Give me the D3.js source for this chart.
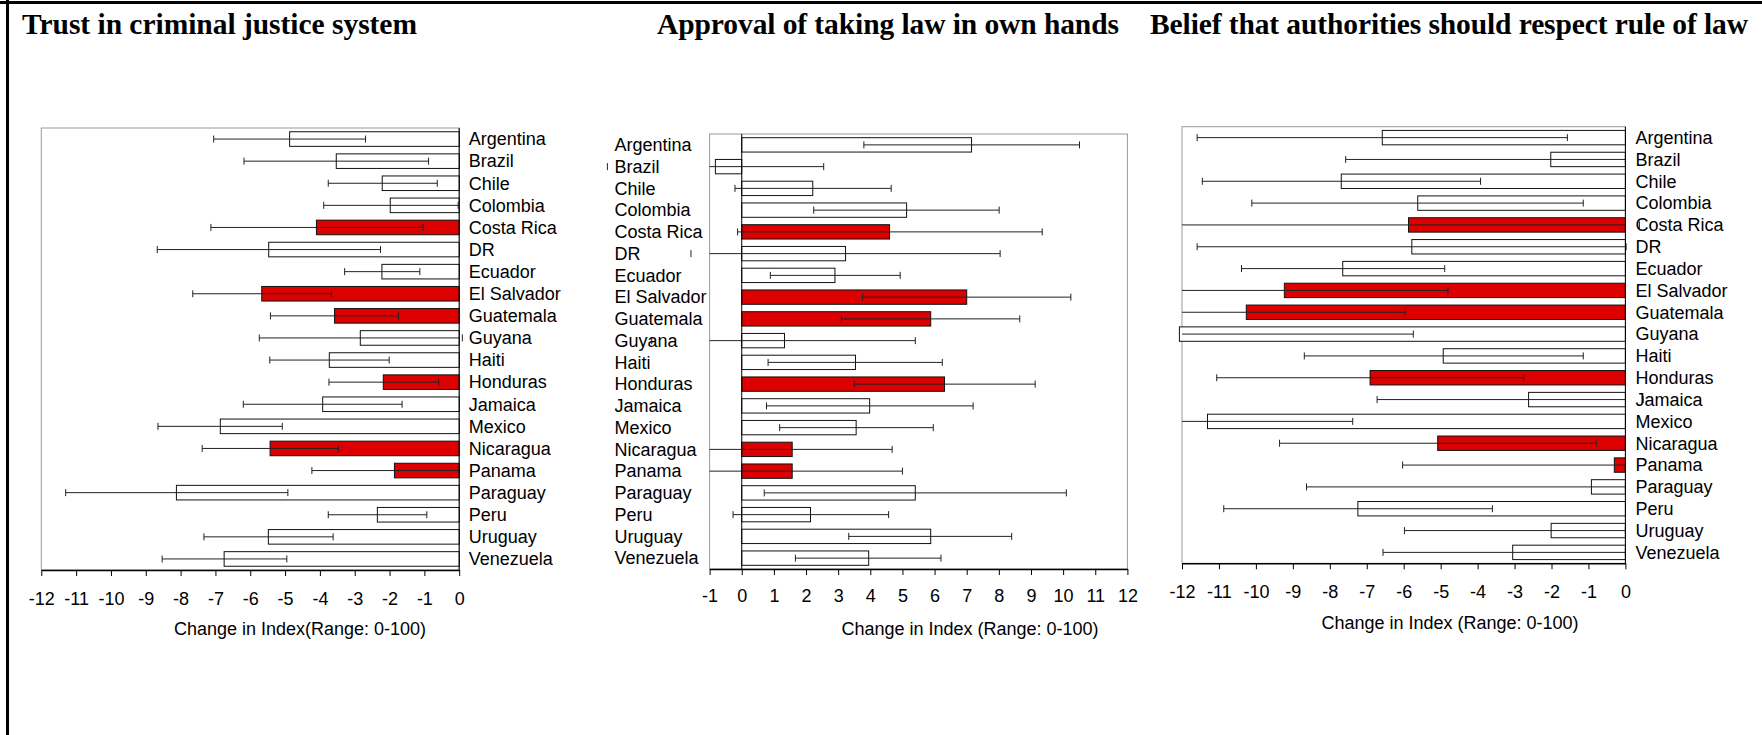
<!DOCTYPE html>
<html>
<head>
<meta charset="utf-8">
<script src="https://cdn.jsdelivr.net/npm/d3@7"></script>
<style>
  html, body { margin: 0; padding: 0; background: #fff; }
  svg { display: block; }
</style>
</head>
<body>
<svg id="chart" width="1762" height="735"></svg>
<script>
// ---------------- DATA ----------------
const countries = ["Argentina","Brazil","Chile","Colombia","Costa Rica","DR","Ecuador","El Salvador","Guatemala","Guyana","Haiti","Honduras","Jamaica","Mexico","Nicaragua","Panama","Paraguay","Peru","Uruguay","Venezuela"];
const highlighted = ["Costa Rica","El Salvador","Guatemala","Honduras","Nicaragua","Panama"];

const panelTitles = ["Trust in criminal justice system","Approval of taking law in own hands","Belief that authorities should respect rule of law"];
const axisTitles = ["Change in Index(Range: 0-100)","Change in Index (Range: 0-100)","Change in Index (Range: 0-100)"];

const trustTicks = [-12,-11,-10,-9,-8,-7,-6,-5,-4,-3,-2,-1,0];
const approvalTicks = [-1,0,1,2,3,4,5,6,7,8,9,10,11,12];
const ruleTicks = [-12,-11,-10,-9,-8,-7,-6,-5,-4,-3,-2,-1,0];

const trustValues = [-4.87,-3.53,-2.21,-1.98,-4.10,-5.47,-2.22,-5.67,-3.58,-2.84,-3.73,-2.18,-3.92,-6.86,-5.43,-1.86,-8.12,-2.35,-5.48,-6.75];
const trustLow    = [-7.05,-6.18,-3.76,-3.89,-7.13,-8.67,-3.29,-7.65,-5.42,-5.74,-5.44,-3.74,-6.20,-8.65,-7.38,-4.23,-11.30,-3.76,-7.33,-8.53];
const trustHigh   = [-2.69,-0.88,-0.63,-0.03,-1.04,-2.26,-1.13,-3.67,-1.74,0.09,-2.01,-0.59,-1.64,-5.08,-3.47,0.00,-4.92,-0.93,-3.62,-4.95];

const approvalValues = [7.15,-0.82,2.21,5.13,4.60,3.23,2.90,7.00,5.88,1.33,3.54,6.31,3.98,3.56,1.57,1.57,5.40,2.14,5.88,3.95];
const approvalLow    = [3.80,-4.18,-0.21,2.24,-0.13,-1.58,0.89,3.76,3.10,-2.80,0.82,3.50,0.77,1.18,-5.50,-5.20,0.70,-0.27,3.33,1.67];
const approvalHigh   = [10.51,2.55,4.65,8.01,9.35,8.04,4.93,10.24,8.65,5.40,6.24,9.13,7.20,5.96,4.68,5.00,10.10,4.57,8.40,6.20];

const ruleValues = [-6.58,-2.02,-7.69,-5.62,-5.87,-5.78,-7.65,-9.23,-10.26,-12.07,-4.93,-6.91,-2.62,-11.31,-5.08,-0.30,-0.92,-7.24,-2.01,-3.05];
const ruleLow    = [-11.59,-7.57,-11.45,-10.11,-12.60,-11.59,-10.39,-13.00,-13.20,-13.50,-8.69,-11.06,-6.72,-12.80,-9.36,-6.03,-8.63,-10.87,-5.98,-6.56];
const ruleHigh   = [-1.57,0.00,-3.92,-1.14,0.38,0.02,-4.89,-4.80,-5.96,-5.74,-1.14,-2.75,0.48,-7.38,-0.79,0.00,0.00,-3.60,0.00,0.00];

// ---------------- LAYOUT ----------------
const panels = [
  { title: panelTitles[0], axisTitle: axisTitles[0], values: trustValues, low: trustLow, high: trustHigh, ticks: trustTicks,
    domain: [-12, 0], capDomain: [-12, 3], x0: 41.3, x1: 459.2, y0: 128, y1: 570,
    labelX: 468.8, tickPad: 16, axisTitleX: 300, axisTitleY: 635, titleX: 22, titleW: 395 },
  { title: panelTitles[1], axisTitle: axisTitles[1], values: approvalValues, low: approvalLow, high: approvalHigh, ticks: approvalTicks,
    domain: [-1, 12], capDomain: [-4.5, 12], x0: 709.6, x1: 1127.4, y0: 134, y1: 569,
    labelX: 614.5, tickPad: 14, axisTitleX: 970, axisTitleY: 635, titleX: 657, titleW: 462 },
  { title: panelTitles[2], axisTitle: axisTitles[2], values: ruleValues, low: ruleLow, high: ruleHigh, ticks: ruleTicks,
    domain: [-12, 0], capDomain: [-12.1, 1], x0: 1182, x1: 1625.4, y0: 126.7, y1: 563.3,
    labelX: 1635.5, tickPad: 16, axisTitleX: 1450, axisTitleY: 629, titleX: 1150, titleW: 598 }
];

const RED = "#dd0000";
const GREY = "#9a9a9a";
const sansFont = "'Liberation Sans', Arial, sans-serif";
const serifFont = "'Liberation Serif', 'Times New Roman', serif";

const svg = d3.select("#chart");
svg.append("rect").attr("width", 1762).attr("height", 735).attr("fill", "#fff");

// outer frame (top + left edges)
svg.append("line").attr("x1", 0).attr("x2", 1762).attr("y1", 2.5).attr("y2", 2.5).attr("stroke", "#000").attr("stroke-width", 3);
svg.append("line").attr("x1", 7.5).attr("x2", 7.5).attr("y1", 0).attr("y2", 735).attr("stroke", "#000").attr("stroke-width", 3);

panels.forEach(p => {
  const g = svg.append("g");
  const x = d3.scaleLinear().domain(p.domain).range([p.x0, p.x1]);
  const y = d3.scaleBand().domain(countries).range([p.y0, p.y1]).paddingInner(0.34).paddingOuter(0.17);
  const capH = 7;

  // title
  svg.append("text").attr("x", p.titleX).attr("y", 34)
    .attr("font-family", serifFont).attr("font-weight", "bold").attr("font-size", 29.5)
    .attr("textLength", p.titleW).attr("lengthAdjust", "spacing")
    .attr("fill", "#000").text(p.title);

  // plot frame (grey)
  g.append("rect").attr("x", p.x0).attr("y", p.y0).attr("width", p.x1 - p.x0).attr("height", p.y1 - p.y0)
    .attr("fill", "none").attr("stroke", GREY).attr("stroke-width", 1);

  // bars
  g.selectAll("rect.bar").data(countries).join("rect").attr("class", "bar")
    .attr("x", (c, i) => Math.min(x(0), x(p.values[i])))
    .attr("width", (c, i) => Math.abs(x(p.values[i]) - x(0)))
    .attr("y", c => y(c))
    .attr("height", y.bandwidth())
    .attr("fill", c => highlighted.includes(c) ? RED : "#fff")
    .attr("stroke", "#111").attr("stroke-width", 1);

  // error bars: line clipped to the plot domain, caps shown where visible
  const dmin = p.domain[0], dmax = p.domain[1];
  const clampD = v => Math.max(dmin, Math.min(dmax, v));
  g.selectAll("line.err").data(countries).join("line").attr("class", "err")
    .attr("x1", (c, i) => x(clampD(p.low[i])))
    .attr("x2", (c, i) => x(clampD(p.high[i])))
    .attr("y1", c => y(c) + y.bandwidth() / 2)
    .attr("y2", c => y(c) + y.bandwidth() / 2)
    .attr("stroke", "#222").attr("stroke-width", 1);

  const caps = [];
  countries.forEach((c, i) => {
    [p.low[i], p.high[i]].forEach(v => {
      if (v >= p.capDomain[0] && v <= p.capDomain[1]) caps.push({ c, v });
    });
  });
  g.selectAll("line.cap").data(caps).join("line").attr("class", "cap")
    .attr("x1", d => x(d.v)).attr("x2", d => x(d.v))
    .attr("y1", d => y(d.c) + y.bandwidth() / 2 - capH / 2)
    .attr("y2", d => y(d.c) + y.bandwidth() / 2 + capH / 2)
    .attr("stroke", "#222").attr("stroke-width", 1);

  // zero line
  g.append("line").attr("x1", x(0)).attr("x2", x(0)).attr("y1", p.y0).attr("y2", p.y1)
    .attr("stroke", "#000").attr("stroke-width", 1);

  // category labels
  g.selectAll("text.lab").data(countries).join("text").attr("class", "lab")
    .attr("x", p.labelX)
    .attr("y", c => y(c) + y.bandwidth() / 2)
    .attr("dy", "0.35em")
    .attr("font-family", sansFont).attr("font-size", 18).attr("fill", "#000")
    .text(c => c);

  // x axis
  const ax = g.append("g").attr("transform", `translate(0,${p.y1})`)
    .call(d3.axisBottom(x).tickValues(p.ticks).tickFormat(d => String(d))
      .tickSize(6).tickSizeOuter(0).tickPadding(p.tickPad));
  ax.select(".domain").attr("stroke", "#000").attr("stroke-width", 1.5);
  ax.selectAll(".tick line").attr("stroke", "#000");
  ax.selectAll(".tick text").attr("font-family", sansFont).attr("font-size", 18).attr("fill", "#000");

  // axis title
  svg.append("text").attr("x", p.axisTitleX).attr("y", p.axisTitleY).attr("text-anchor", "middle")
    .attr("font-family", sansFont).attr("font-size", 18).attr("fill", "#000").text(p.axisTitle);
});
</script>
</body>
</html>
